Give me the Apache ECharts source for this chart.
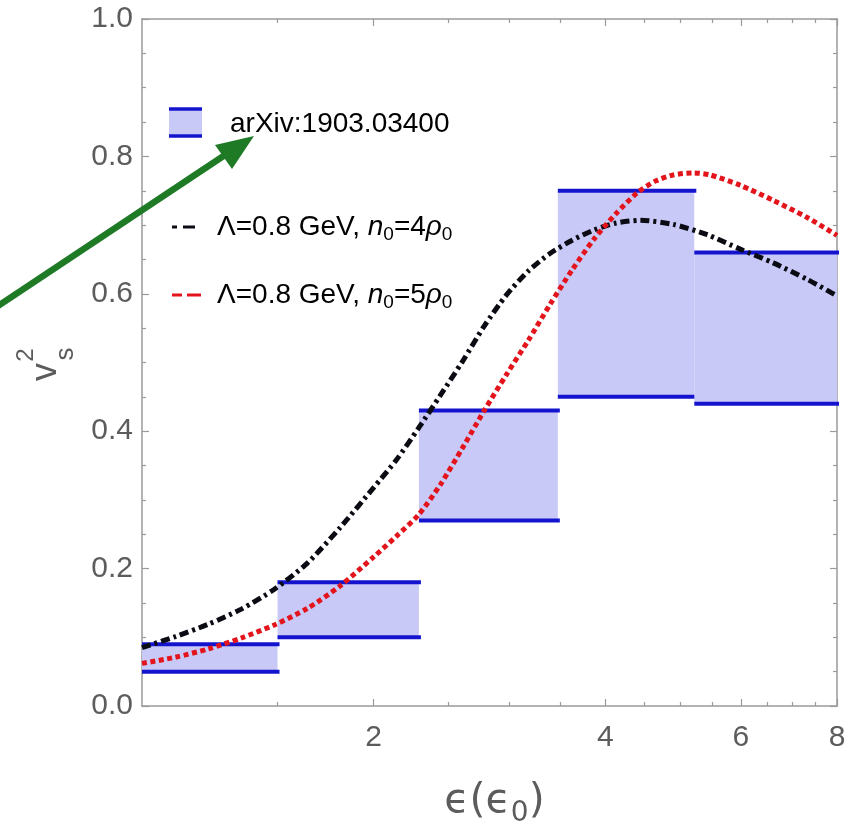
<!DOCTYPE html>
<html><head><meta charset="utf-8">
<script src="https://cdn.jsdelivr.net/npm/echarts@6/dist/echarts.min.js"></script>
<style>html,body{margin:0;padding:0;background:#fff}#c{width:851px;height:833px}</style>
</head><body><div id="c"></div>
<script>
// ---- data ----
const binLeft  = [1, 1.5, 2.29, 3.47, 5.22];
const binRight = [1.5, 2.29, 3.47, 5.22, 8];
const bandLow  = [0.05, 0.10, 0.27, 0.45, 0.44];
const bandHigh = [0.09, 0.18, 0.43, 0.75, 0.66];

const curve4X = [1.0, 1.105, 1.219, 1.346, 1.486, 1.640, 1.810, 2.0, 2.140, 2.286, 2.441, 2.607, 2.784, 2.974, 3.176, 3.392, 3.623, 3.869, 4.132, 4.440, 4.901, 5.426, 5.988, 6.611, 7.318, 8.0];
const curve4Y = [0.085, 0.101, 0.119, 0.141, 0.170, 0.208, 0.260, 0.318, 0.358, 0.404, 0.452, 0.501, 0.553, 0.598, 0.633, 0.659, 0.678, 0.693, 0.703, 0.707, 0.701, 0.686, 0.665, 0.645, 0.621, 0.597];

const curve5X = [1.0, 1.105, 1.219, 1.346, 1.486, 1.640, 1.810, 2.0, 2.140, 2.286, 2.441, 2.607, 2.784, 2.974, 3.176, 3.392, 3.623, 3.869, 4.132, 4.401, 4.644, 4.901, 5.203, 5.475, 5.988, 6.611, 7.318, 8.0];
const curve5Y = [0.062, 0.071, 0.083, 0.099, 0.118, 0.142, 0.175, 0.217, 0.247, 0.278, 0.322, 0.375, 0.430, 0.482, 0.532, 0.585, 0.635, 0.680, 0.717, 0.747, 0.764, 0.773, 0.776, 0.773, 0.758, 0.736, 0.711, 0.685];

const xMajorTicks = [2, 4, 6, 8];
const xMinorTicks = [1.5, 2.5, 3, 3.5, 4.5, 5, 5.5, 6.5, 7, 7.5];
const yMin = 0, yMax = 1, yStep = 0.2;

const legendNames = ['arXiv:1903.03400', 'Λ=0.8 GeV, n0=4ρ0', 'Λ=0.8 GeV, n0=5ρ0'];

// ---- styles ----
const FONT = '"Liberation Sans", Arial, Helvetica, sans-serif';
const AXC = '#9a9a9a';
const TXC = '#5c5c5c';
const BLUE = '#1414cf';
const FILL = '#c9c9f8';
const BLACK = '#0b0b14';
const RED = '#e3141c';
const GREEN = '#1f7a26';

const bandData = binLeft.map((l, i) => [l, binRight[i], bandLow[i], bandHigh[i]]);
const c4 = curve4X.map((x, i) => [x, curve4Y[i]]);
const c5 = curve5X.map((x, i) => [x, curve5Y[i]]);

function xAx(pos, ticks, len, line, labels) {
  return {
    type: 'log', logBase: 2, min: 1, max: 8, position: pos,
    axisLine: {show: line, onZero: false, lineStyle: {color: AXC, width: 1.5}},
    axisTick: {show: true, inside: true, length: len, customValues: ticks, lineStyle: {color: AXC, width: 1.2}},
    axisLabel: labels ? {show: true, customValues: ticks, formatter: v => String(Math.round(v)), color: TXC, fontSize: 30, fontFamily: FONT, margin: 17}
                      : {show: false},
    splitLine: {show: false}, minorTick: {show: false}
  };
}
function yAx(pos, labels) {
  return {
    type: 'value', min: yMin, max: yMax, interval: yStep, position: pos,
    axisLine: {show: true, onZero: false, lineStyle: {color: AXC, width: 1.5}},
    axisTick: {show: true, inside: true, length: 7, lineStyle: {color: AXC, width: 1.2}},
    minorTick: {show: true, splitNumber: 4, length: 4, lineStyle: {color: AXC, width: 1.2}},
    axisLabel: labels ? {show: true, formatter: v => v.toFixed(1), color: TXC, fontSize: 30, fontFamily: FONT, margin: 9}
                      : {show: false},
    splitLine: {show: false}, minorSplitLine: {show: false}
  };
}

const chart = echarts.init(document.getElementById('c'), null, {renderer: 'canvas'});
const legendRich = {
  r: {fontSize: 28, fontFamily: FONT, color: '#111', lineHeight: 35},
  i: {fontSize: 28, fontFamily: FONT, color: '#111', fontStyle: 'italic', lineHeight: 35},
  s: {fontSize: 19, fontFamily: FONT, color: '#111', lineHeight: 19, verticalAlign: 'bottom'}
};
function legendLabel(name) {
  const m = name.match(/^(.*), n0=(\d)ρ0$/);
  if (!m) return '{r|' + name + '}';
  return '{r|' + m[1] + ', }{i|n}{s|0}{r|=' + m[2] + '}{i|ρ}{s|0}';
}

const option = {
  backgroundColor: '#ffffff',
  animation: false,
  grid: {left: 142, top: 19, right: 14, bottom: 124, containLabel: false},
  xAxis: [
    Object.assign(xAx('bottom', xMajorTicks, 7, true, true), {
      name: '{e|ϵ(ϵ}{s|0}{e|)}', nameLocation: 'middle', nameGap: 68,
      nameTextStyle: {padding: [0, 0, 0, 10], rich: {
        e: {fontSize: 41, fontFamily: '"DejaVu Sans", sans-serif', color: TXC, lineHeight: 54},
        s: {fontSize: 28, fontFamily: '"DejaVu Sans", sans-serif', color: TXC, lineHeight: 28, verticalAlign: 'bottom'}
      }}
    }),
    xAx('bottom', xMinorTicks, 4, false, false),
    xAx('top', xMajorTicks, 7, true, false),
    xAx('top', xMinorTicks, 4, false, false)
  ],
  yAxis: [yAx('left', true), yAx('right', false)],
  series: [
    {
      name: legendNames[0], type: 'custom', xAxisIndex: 0, yAxisIndex: 0, z: 2,
      data: bandData, encode: {x: [0, 1], y: [2, 3]},
      renderItem: function (params, api) {
        const pA = api.coord([api.value(0), api.value(3)]);
        const pB = api.coord([api.value(1), api.value(2)]);
        return {type: 'group', children: [
          {type: 'rect', shape: {x: pA[0], y: pA[1], width: pB[0] - pA[0], height: pB[1] - pA[1]}, style: {fill: FILL}},
          {type: 'line', shape: {x1: pA[0], y1: pA[1], x2: pB[0] + 2, y2: pA[1]}, style: {stroke: BLUE, lineWidth: 4}},
          {type: 'line', shape: {x1: pA[0], y1: pB[1], x2: pB[0] + 2, y2: pB[1]}, style: {stroke: BLUE, lineWidth: 4}}
        ]};
      }
    },
    {
      name: legendNames[1], type: 'line', data: c4, xAxisIndex: 0, yAxisIndex: 0, z: 3,
      showSymbol: false, smooth: 0.25, clip: true,
      lineStyle: {color: BLACK, width: 5, type: [9, 4, 3, 4], cap: 'butt'}
    },
    {
      name: legendNames[2], type: 'line', data: c5, xAxisIndex: 0, yAxisIndex: 0, z: 4,
      showSymbol: false, smooth: 0.25, clip: true,
      lineStyle: {color: RED, width: 5, type: [5, 3.5], cap: 'butt'}
    }
  ],
  graphic: [
    // legend
    {type: 'rect', shape: {x: 169, y: 109, width: 33, height: 27}, style: {fill: FILL}, z: 10},
    {type: 'line', shape: {x1: 169, y1: 109, x2: 202, y2: 109}, style: {stroke: BLUE, lineWidth: 3.5}, z: 11},
    {type: 'line', shape: {x1: 169, y1: 136, x2: 202, y2: 136}, style: {stroke: BLUE, lineWidth: 3.5}, z: 11},
    {type: 'text', x: 230, y: 124, z: 11, style: {text: legendLabel(legendNames[0]), rich: legendRich, verticalAlign: 'middle', align: 'left'}},
    {type: 'line', shape: {x1: 172, y1: 227, x2: 177, y2: 227}, style: {stroke: BLACK, lineWidth: 3}, z: 11},
    {type: 'line', shape: {x1: 183, y1: 227, x2: 195, y2: 227}, style: {stroke: BLACK, lineWidth: 3}, z: 11},
    {type: 'text', x: 217, y: 227, z: 11, style: {text: legendLabel(legendNames[1]), rich: legendRich, verticalAlign: 'middle', align: 'left'}},
    {type: 'line', shape: {x1: 172, y1: 295, x2: 182, y2: 295}, style: {stroke: RED, lineWidth: 3}, z: 11},
    {type: 'line', shape: {x1: 187, y1: 295, x2: 201, y2: 295}, style: {stroke: RED, lineWidth: 3}, z: 11},
    {type: 'text', x: 217, y: 295, z: 11, style: {text: legendLabel(legendNames[2]), rich: legendRich, verticalAlign: 'middle', align: 'left'}},
    // y-axis title v_s^2 (rotated)
    {type: 'group', x: 46, y: 372, rotation: Math.PI / 2, z: 11, children: [
      {type: 'text', x: 0, y: 0, style: {text: 'v', fontSize: 36, fontFamily: FONT, fill: TXC, align: 'center', verticalAlign: 'middle'}},
      {type: 'text', x: 17, y: -20, style: {text: '2', fontSize: 24, fontFamily: FONT, fill: TXC, align: 'center', verticalAlign: 'middle'}},
      {type: 'text', x: 18, y: 20, style: {text: 's', fontSize: 26, fontFamily: FONT, fill: TXC, align: 'center', verticalAlign: 'middle'}}
    ]},
    // green annotation arrow
    {type: 'line', shape: {x1: -5, y1: 308, x2: 228, y2: 153}, style: {stroke: GREEN, lineWidth: 6.5}, z: 20},
    {type: 'polygon', shape: {points: [[254, 136], [215, 145], [232, 169]]}, style: {fill: GREEN}, z: 20}
  ]
};
chart.setOption(option);
</script>
</body></html>
